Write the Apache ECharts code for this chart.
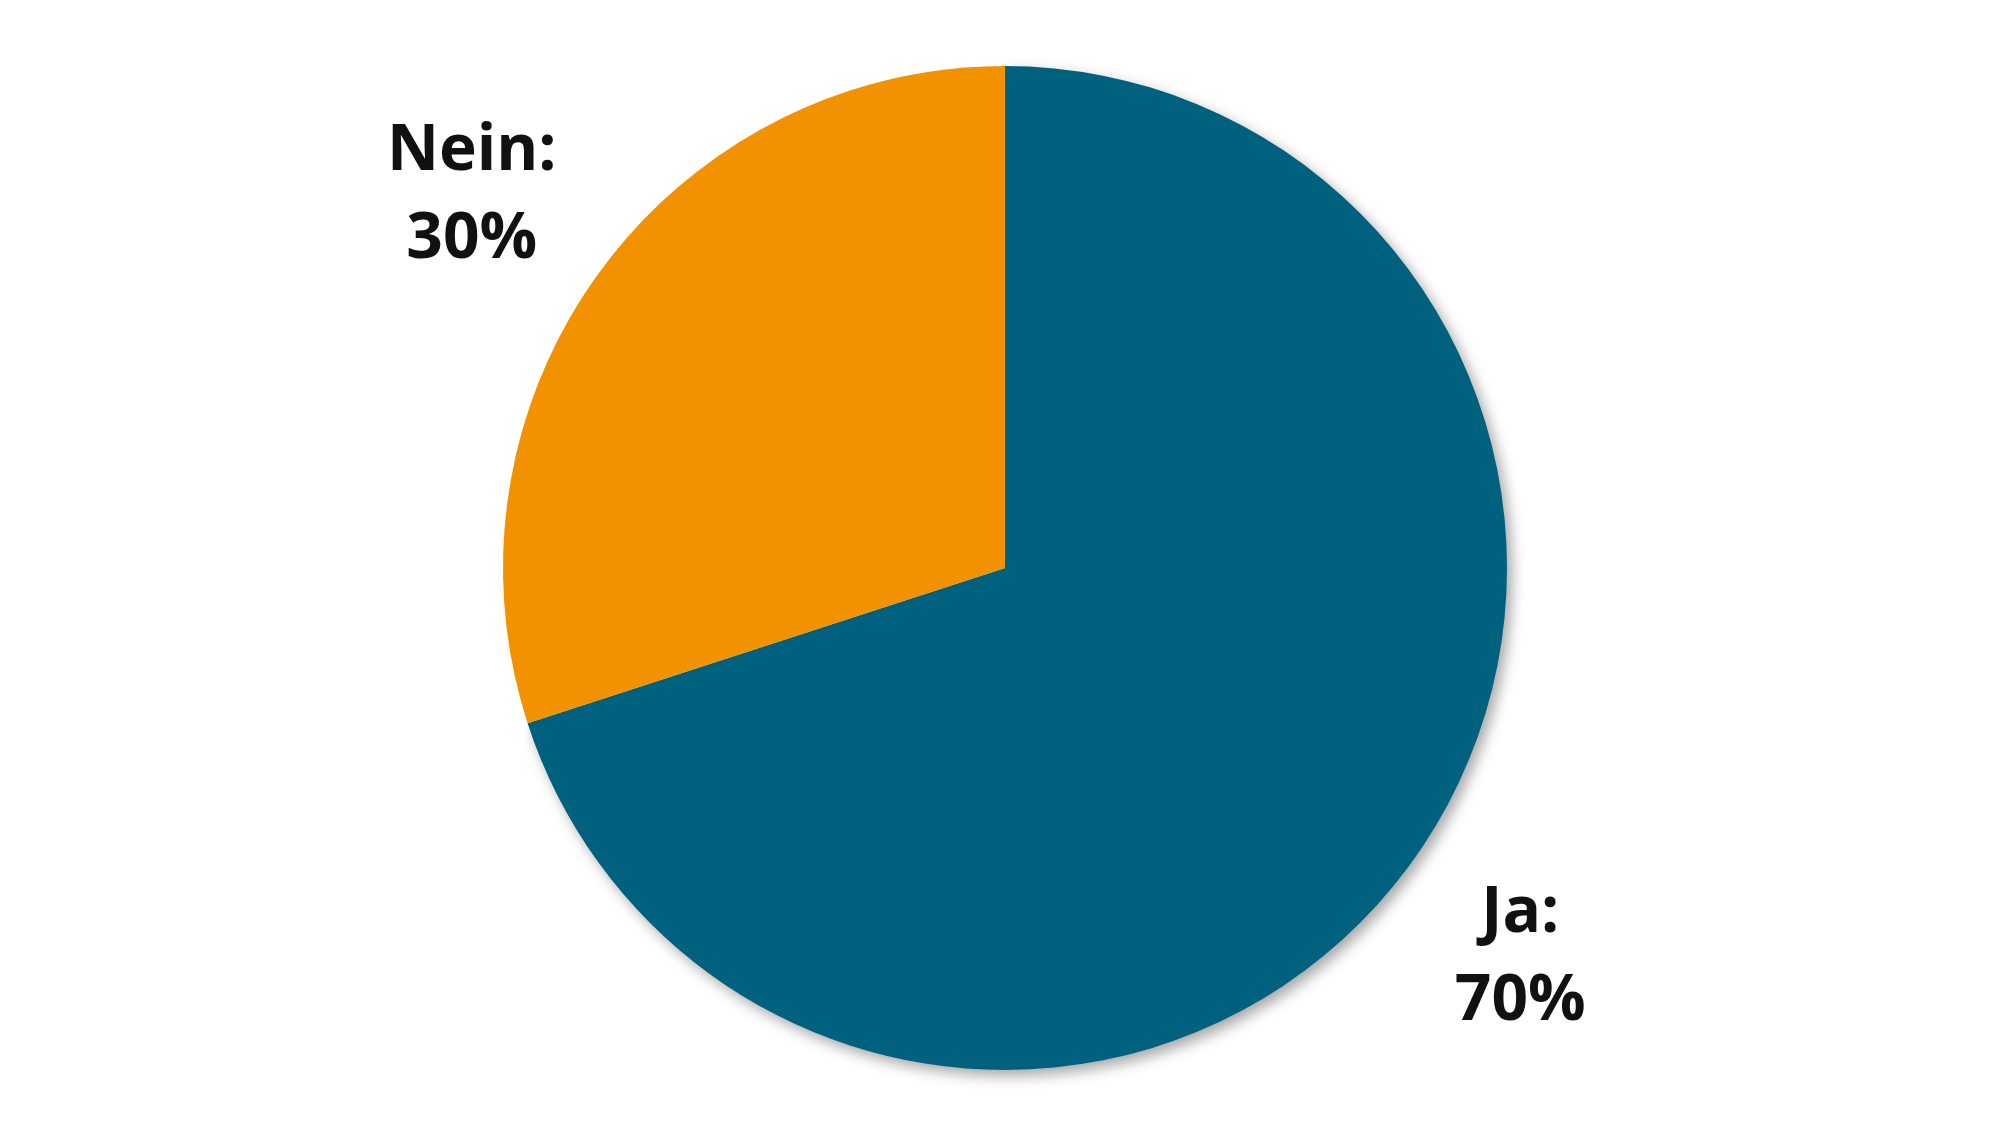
<!DOCTYPE html>
<html>
<head>
<meta charset="utf-8">
<script src="https://cdn.jsdelivr.net/npm/echarts@6/dist/echarts.min.js"></script>
<style>
html,body{margin:0;padding:0;background:#fff;}
#chart{width:2000px;height:1125px;}
</style>
</head>
<body>
<div id="chart"></div>
<script>
const categories = ['Ja', 'Nein'];
const values = [70, 30];
const colors = ['#00617f', '#f39200'];

const data = categories.map((c, i) => ({
  name: c,
  value: values[i],
  itemStyle: i === 0
    ? { color: colors[i], shadowBlur: 14, shadowOffsetX: 5, shadowOffsetY: 6, shadowColor: 'rgba(0,0,0,0.35)' }
    : { color: colors[i] }
}));

const labelData = categories.map((c, i) => ({ name: c, value: values[i] }));

const chart = echarts.init(document.getElementById('chart'));
chart.setOption({
  backgroundColor: '#ffffff',
  animation: false,
  series: [
    {
      type: 'pie',
      center: [1005, 568],
      radius: [0, 502],
      startAngle: 90,
      clockwise: true,
      label: { show: false },
      labelLine: { show: false },
      emphasis: { disabled: true },
      data: data
    },
    {
      type: 'pie',
      center: [1005, 568],
      radius: [600, 690],
      startAngle: 90,
      clockwise: true,
      silent: true,
      itemStyle: { color: 'rgba(0,0,0,0)' },
      label: {
        show: true,
        position: 'inside',
        formatter: p => p.name + ':\n' + p.value + '%',
        fontFamily: 'Open Sans',
        fontWeight: 'bold',
        fontSize: 64,
        lineHeight: 88,
        color: '#111111',
        align: 'center',
        offset: [-9, 9]
      },
      labelLine: { show: false },
      emphasis: { disabled: true },
      data: labelData
    }
  ]
});
</script>
</body>
</html>
